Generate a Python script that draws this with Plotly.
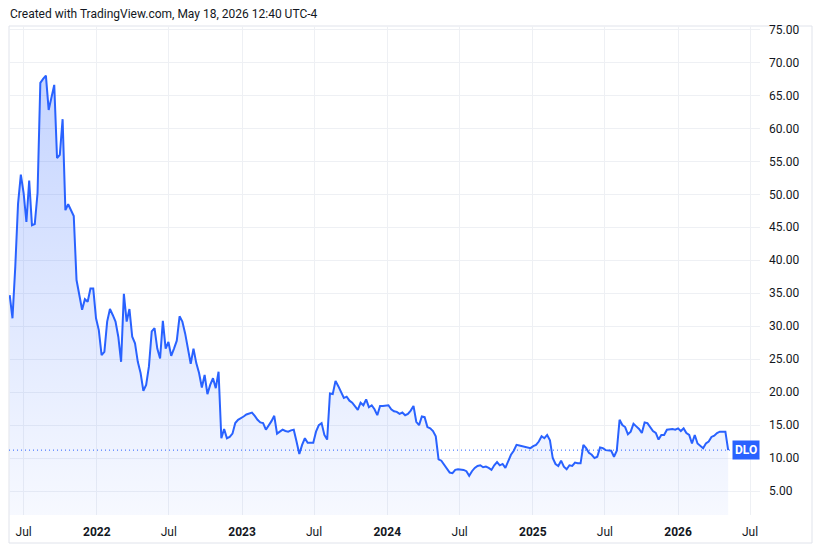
import pandas as pd
import plotly.graph_objects as go

# Weekly closing prices of DLO
start_date = "2021-05-27"
prices = [
    34.7, 31.2, 39.0, 48.6, 53.0, 50.2, 45.8, 52.1, 45.3, 45.5,
    50.2, 66.9, 67.5, 68.0, 62.8, 64.5, 66.6, 55.5, 56.0, 61.4,
    47.6, 48.5, 47.7, 46.7, 37.0, 34.5, 32.5, 34.1, 33.7, 35.7,
    35.7, 31.2, 29.4, 25.6, 26.1, 30.7, 32.6, 31.7, 30.7, 28.4,
    24.6, 34.9, 30.7, 32.6, 28.4, 27.4, 24.6, 22.9, 20.2, 21.1,
    23.9, 29.2, 29.7, 26.6, 25.1, 30.8, 26.6, 27.6, 25.5, 26.6,
    27.8, 31.5, 30.7, 28.9, 26.6, 24.3, 26.6, 24.4, 22.9, 20.7,
    22.6, 19.7, 21.1, 22.1, 20.6, 23.1, 13.0, 14.4, 13.0, 13.2,
    13.7, 15.3, 15.8, 16.0, 16.3, 16.6, 16.8, 16.9, 16.4, 15.8,
    15.4, 15.3, 14.3, 14.9, 15.6, 16.4, 13.7, 14.0, 14.3, 14.1,
    14.0, 14.2, 14.3, 12.5, 10.6, 12.0, 13.0, 12.3, 12.3, 12.3,
    14.0, 15.0, 15.3, 13.5, 12.8, 19.8, 19.7, 21.7, 20.9, 20.1,
    19.1, 19.3, 18.7, 18.4, 17.8, 17.3, 18.4, 18.0, 18.9, 17.7,
    18.0, 17.4, 16.5, 17.9, 17.9, 17.9, 18.0, 17.4, 17.1, 17.0,
    16.7, 16.9, 16.5, 16.7, 17.2, 17.9, 15.5, 15.0, 16.3, 16.2,
    14.7, 14.5, 14.1, 13.3, 9.8, 9.6, 9.0, 8.4, 7.8, 7.7,
    8.2, 8.3, 8.3, 8.2, 8.0, 7.3, 8.0, 8.5, 8.8, 8.9,
    8.6, 8.7, 8.5, 8.2, 8.9, 9.4, 8.9, 9.1, 8.5, 9.6,
    10.5, 11.1, 12.0, 11.9, 11.8, 11.6, 11.6, 11.5, 11.8, 12.0,
    12.5, 13.3, 13.0, 13.5, 12.7, 10.0, 9.1, 8.8, 9.6, 8.7,
    8.3, 8.9, 8.8, 9.3, 9.2, 9.2, 12.0, 11.5, 10.8, 10.5,
    10.0, 10.2, 11.6, 11.5, 11.2, 11.1, 11.1, 10.2, 11.1, 15.8,
    15.0, 14.7, 13.6, 14.0, 15.2, 14.8, 14.4, 13.8, 15.4, 15.3,
    14.6, 14.1, 13.8, 12.8, 13.5, 13.5, 14.3, 14.4, 14.4, 14.3,
    14.5, 14.1, 14.5, 13.8, 13.5, 12.2, 13.5, 12.2, 11.8, 11.5,
    12.2, 12.5, 13.2, 13.4, 13.8, 14.0, 14.0, 14.0, 11.2,
]
symbol = "DLO"

y_tick_values = [5, 10, 15, 20, 25, 30, 35, 40, 45, 50, 55, 60, 65, 70, 75]
y_tick_labels = [f"{v:.2f}" for v in y_tick_values]

x_tick_values = ["2021-07-01", "2022-01-01", "2022-07-01", "2023-01-01", "2023-07-01",
                 "2024-01-01", "2024-07-01", "2025-01-01", "2025-07-01", "2026-01-01",
                 "2026-07-01"]
x_tick_labels = ["Jul", "<b>2022</b>", "Jul", "<b>2023</b>", "Jul", "<b>2024</b>", "Jul",
                 "<b>2025</b>", "Jul", "<b>2026</b>", "Jul"]

title_text = "Created with TradingView.com, May 18, 2026 12:40 UTC-4"

dates = pd.date_range(start_date, periods=len(prices), freq="7D")

BLUE = "#2962FF"
GRID = "#eef0f4"
TEXT = "#131722"
FONT = "Roboto"

fig = go.Figure()
fig.add_trace(go.Scatter(
    x=dates, y=prices, mode="lines",
    line=dict(color=BLUE, width=2),
    fill="tozeroy",
    fillgradient=dict(type="vertical",
                      colorscale=[[0, "rgba(41,98,255,0.04)"], [1, "rgba(41,98,255,0.27)"]],
                      start=1.4, stop=68),
    hoverinfo="skip",
    showlegend=False,
))

last = prices[-1]

fig.update_layout(
    width=822, height=552,
    margin=dict(l=9, r=62, t=26, b=37),
    paper_bgcolor="white", plot_bgcolor="white",
    font=dict(family=FONT, size=12, color=TEXT),
    title=dict(text=title_text, x=10 / 822, xanchor="left", xref="container",
               y=1 - 14 / 552, yanchor="middle", yref="container",
               font=dict(family=FONT, size=12, color=TEXT)),
    xaxis=dict(range=["2021-05-25 06:00", "2026-07-26"],
               tickvals=x_tick_values, ticktext=x_tick_labels,
               showgrid=True, gridcolor=GRID, gridwidth=1,
               zeroline=False, showline=False, ticks="",
               ticklabelstandoff=8,
               tickfont=dict(family=FONT, size=12, color=TEXT)),
    yaxis=dict(range=[1.36, 75.53], side="right",
               tickvals=y_tick_values, ticktext=y_tick_labels,
               showgrid=True, gridcolor=GRID, gridwidth=1,
               zeroline=False, showline=False, ticks="",
               ticklabelstandoff=8,
               tickfont=dict(family=FONT, size=12, color=TEXT)),
    shapes=[
        # outer frame
        dict(type="rect", xref="paper", yref="paper",
             x0=0, x1=(812 - 9) / 751, y0=(515 - 543) / 489, y1=1,
             line=dict(color="#e0e3eb", width=1), fillcolor="rgba(0,0,0,0)", layer="below"),
        # last price dotted line
        dict(type="line", xref="paper", yref="y", x0=0, x1=1, y0=last, y1=last,
             line=dict(color=BLUE, width=1, dash="1px,3px")),
    ],
    annotations=[
        dict(text=f"<b>{symbol}</b>", xref="paper", yref="y", x=1, y=last,
             xanchor="right", yanchor="middle", showarrow=False,
             bgcolor=BLUE, borderpad=2,
             font=dict(family=FONT, size=12, color="white")),
    ],
)

fig.write_html("out.html")
